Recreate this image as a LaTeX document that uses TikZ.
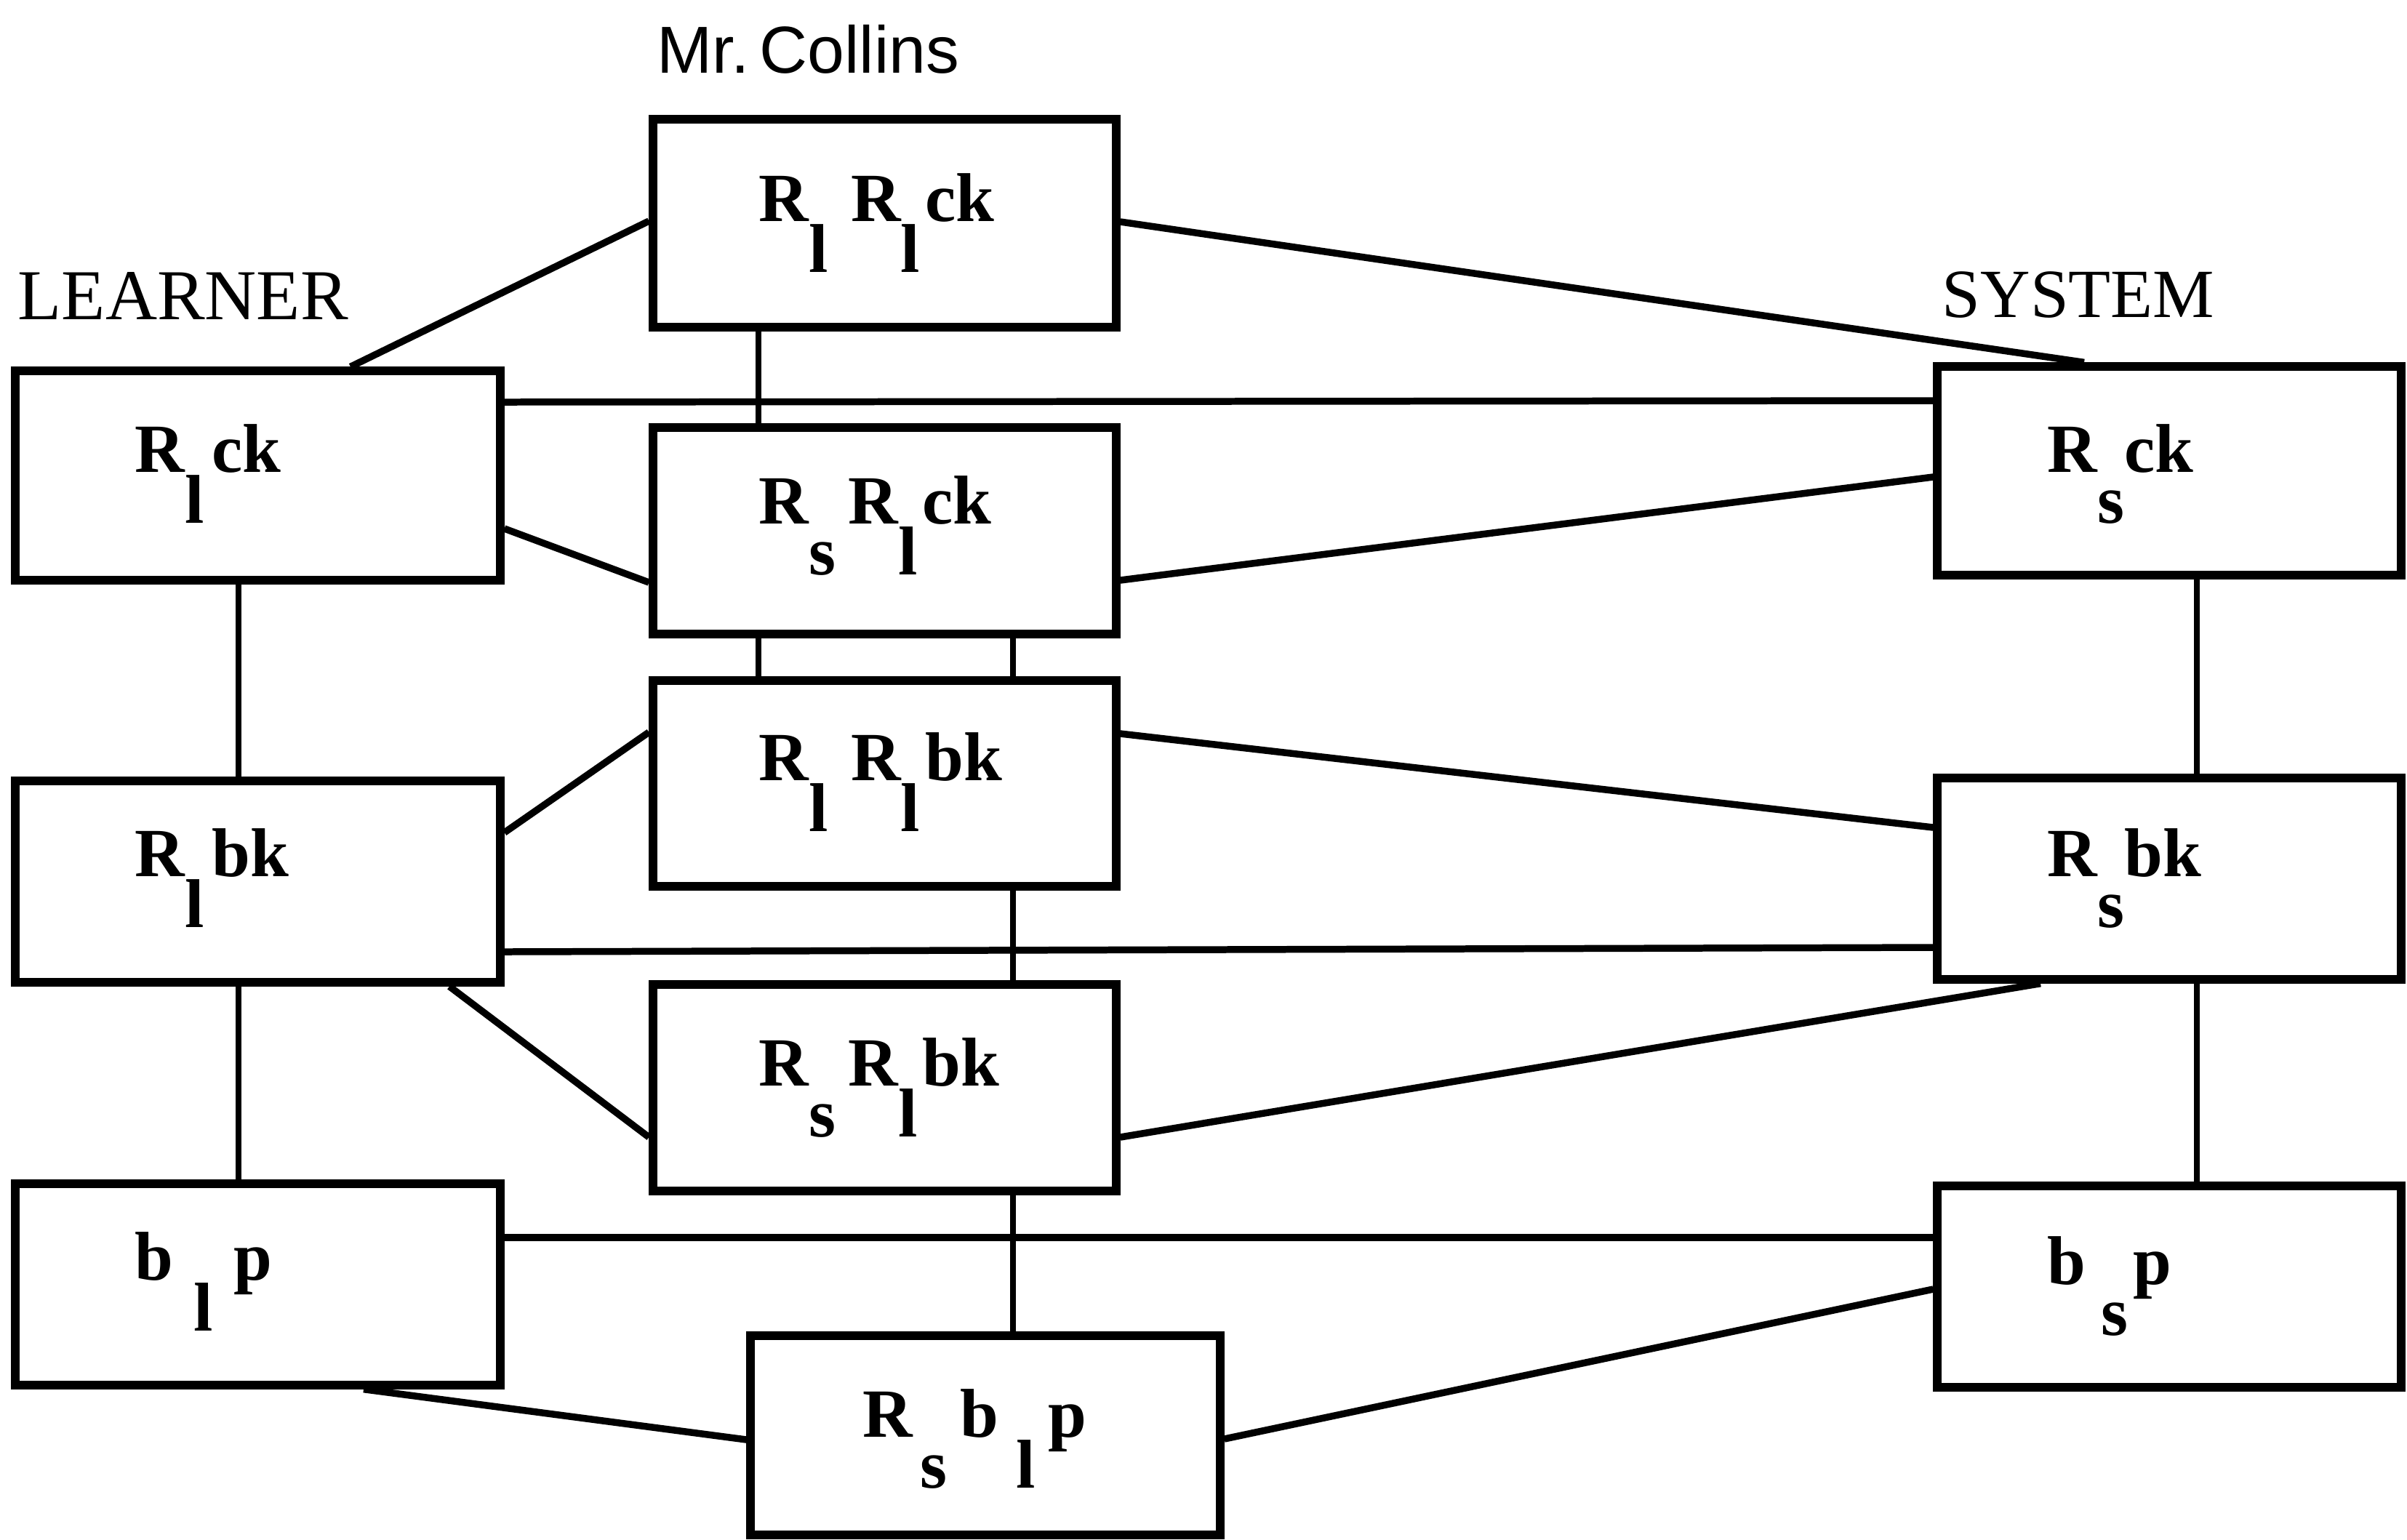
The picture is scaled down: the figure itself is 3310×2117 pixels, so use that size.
\documentclass[tikz,border=0pt]{standalone}
\usepackage{fontspec}
\setmainfont{Liberation Serif}
\newfontfamily\sansf{Liberation Sans}
\usetikzlibrary{fit}
\newcommand\lw[1]{\raisebox{-20pt}{#1}}
\begin{document}
\begin{tikzpicture}[x=0.01cm,y=-0.01cm,
  box/.style={draw, line width=3.2pt, inner sep=0pt},
  conn/.style={line width=2.7pt},
  vconn/.style={line width=2.3pt},
  lab/.style={anchor=base west, inner sep=0pt, font=\fontsize{27}{29}\selectfont\bfseries},
  head/.style={anchor=base west, inner sep=0pt}]
\useasboundingbox (0,0) rectangle (3310,2117);
% boxes
\node[box, fit={(898,164) (1535,450)}] (A) {};
\node[box, fit={(898,588) (1535,872)}] (B) {};
\node[box, fit={(898,936) (1535,1219)}] (C) {};
\node[box, fit={(898,1354) (1535,1638)}] (D) {};
\node[box, fit={(1032,1837) (1678,2111)}] (E) {};
\node[box, fit={(21,510) (688,798)}] (L1) {};
\node[box, fit={(21,1074) (688,1351)}] (L2) {};
\node[box, fit={(21,1628) (688,1905)}] (L3) {};
\node[box, fit={(2664,504) (3302,791)}] (S1) {};
\node[box, fit={(2664,1070) (3302,1347)}] (S2) {};
\node[box, fit={(2664,1631) (3302,1908)}] (S3) {};
% headings
\node[head, font=\sansf\fontsize{26}{28}\selectfont] (hc) at (903,100) {Mr.\hspace{4pt}Collins};
\node[head, font=\fontsize{28}{30}\selectfont] (hl) at (24,439) {LEARNER};
\node[head, font=\fontsize{27}{29}\selectfont] (hs) at (2670,436) {SYSTEM};
% labels
\node[lab] (tA) at (1043,304) {R\lw{l}\hspace{9pt}R\lw{l}\hspace{2pt}ck};
\node[lab] (tB) at (1043,720) {R\lw{s}\hspace{5pt}R\lw{l}\hspace{2pt}ck};
\node[lab] (tC) at (1043,1073) {R\lw{l}\hspace{9pt}R\lw{l}\hspace{2pt}bk};
\node[lab] (tD) at (1043,1493) {R\lw{s}\hspace{5pt}R\lw{l}\hspace{2pt}bk};
\node[lab] (tE) at (1186,1976) {R\hspace{3pt}\lw{s}\hspace{5pt}b\hspace{7pt}\lw{l}\hspace{5pt}p};
\node[lab] (tL1) at (185,649) {R\lw{l}\hspace{3pt}ck};
\node[lab] (tL2) at (185,1205) {R\lw{l}\hspace{3pt}bk};
\node[lab] (tL3) at (185,1760) {b\hspace{8pt}\lw{l}\hspace{8pt}p};
\node[lab] (tS1) at (2815,649) {R\lw{s}ck};
\node[lab] (tS2) at (2815,1205) {R\lw{s}bk};
\node[lab] (tS3) at (2815,1766) {b\hspace{6pt}\lw{s}\hspace{2pt}p};
% connectors
\draw[conn] (L1.north -| 482,0) -- (A.west |- 0,304);
\draw[conn] (A.east |- 0,305) -- (S1.north -| 2866,0);
\draw[vconn] (A.south -| 1043,0) -- (B.north -| 1043,0);
\draw[conn] (L1.east |- 0,553) -- (S1.west |- 0,551);
\draw[conn] (L1.east |- 0,727) -- (B.west |- 0,801);
\draw[conn] (B.east |- 0,798) -- (S1.west |- 0,656);
\draw[vconn] (B.south -| 1043,0) -- (C.north -| 1043,0);
\draw[vconn] (B.south -| 1393,0) -- (C.north -| 1393,0);
\draw[vconn] (L1.south -| 328,0) -- (L2.north -| 328,0);
\draw[conn] (L2.east |- 0,1145) -- (C.west |- 0,1007);
\draw[conn] (C.east |- 0,1009) -- (S2.west |- 0,1138);
\draw[conn] (L2.east |- 0,1309) -- (S2.west |- 0,1303);
\draw[vconn] (C.south -| 1393,0) -- (D.north -| 1393,0);
\draw[vconn] (S1.south -| 3021,0) -- (S2.north -| 3021,0);
\draw[vconn] (L2.south -| 328,0) -- (L3.north -| 328,0);
\draw[conn] (L2.south -| 618,0) -- (D.west |- 0,1564);
\draw[conn] (D.east |- 0,1564) -- (S2.south -| 2806,0);
\draw[vconn] (S2.south -| 3021,0) -- (S3.north -| 3021,0);
\draw[conn] (L3.east |- 0,1702) -- (S3.west |- 0,1702);
\draw[vconn] (D.south -| 1393,0) -- (E.north -| 1393,0);
\draw[conn] (L3.south -| 500,0) -- (E.west |- 0,1980);
\draw[conn] (E.east |- 0,1979) -- (S3.west |- 0,1773);
\end{tikzpicture}
\end{document}
